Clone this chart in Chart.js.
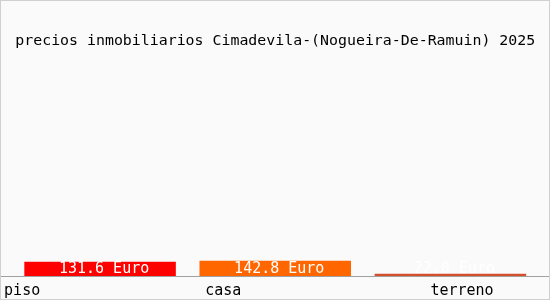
<!DOCTYPE html>
<html>
<head>
<meta charset="utf-8">
<script src="https://cdn.jsdelivr.net/npm/chart.js@4"></script>
<style>
html,body{margin:0;padding:0;background:#fafafa;}
#wrap{width:550px;height:300px;position:relative;}
</style>
</head>
<body>
<div id="wrap"><canvas id="c" width="550" height="300"></canvas></div>
<script>
const labels = ['piso','casa','terreno'];
const prices = [131.6, 142.8, 22];
const barColors = ['#ff0000','#ff6600','#d4502c'];
const yMax = 2000;
const TITLE = 'precios inmobiliarios Cimadevila-(Nogueira-De-Ramuin) 2025';
const MONO = "'DejaVu Sans Mono', monospace";
const LABEL_SHIFT = [-96,-70,-20];

const frame = {
  id:'frame',
  beforeDraw(ch){
    const c=ch.ctx; c.save();
    c.fillStyle='#fafafa'; c.fillRect(0,0,ch.width,ch.height);
    c.restore();
  },
  afterDraw(ch){
    const c=ch.ctx, x=ch.scales.x, y=ch.scales.y;
    c.save();
    // axis line
    c.strokeStyle='#a0a0a0'; c.lineWidth=1;
    c.beginPath(); c.moveTo(0,y.bottom+0.5); c.lineTo(ch.width,y.bottom+0.5); c.stroke();
    // outer border
    c.strokeStyle='#d0d0d0';
    c.strokeRect(0.5,0.5,ch.width-1,ch.height-1);
    // bar value labels
    c.font='15px '+MONO; c.fillStyle='#ffffff'; c.textAlign='center'; c.textBaseline='middle';
    ch.getDatasetMeta(0).data.forEach((b,i)=>{
      c.fillText(prices[i].toFixed(1)+' Euro', b.x+4, y.bottom-7);
    });
    // category labels
    c.font='15px '+MONO; c.fillStyle='#000'; c.textAlign='left';
    labels.forEach((l,i)=>{
      c.fillText(l, x.getPixelForValue(i)+LABEL_SHIFT[i], y.bottom+15);
    });
    c.restore();
  }
};

new Chart(document.getElementById('c'), {
  type:'bar',
  data:{labels, datasets:[{data:prices, backgroundColor:barColors, borderWidth:0,
    categoryPercentage:1, barPercentage:0.865}]},
  options:{
    responsive:false, animation:false,
    layout:{padding:{left:12.5,right:12,top:0,bottom:16}},
    plugins:{
      legend:{display:false}, tooltip:{enabled:false},
      title:{display:true,text:TITLE,color:'#000',font:{family:MONO,size:14.9,weight:'normal'},
        padding:{top:32,bottom:11}}
    },
    scales:{
      x:{display:true,grid:{display:false},border:{display:false},ticks:{display:false}},
      y:{display:false,min:0,max:yMax}
    }
  },
  plugins:[frame]
});
</script>
</body>
</html>
